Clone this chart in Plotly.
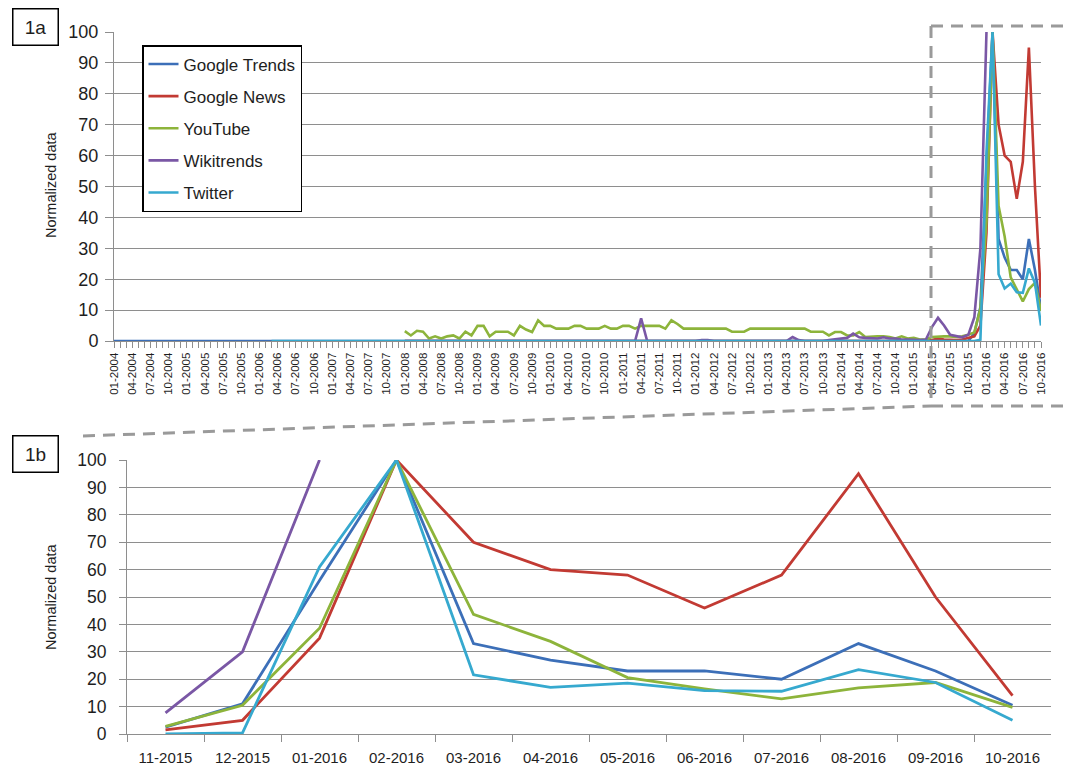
import plotly.graph_objects as go

W, H = 1071, 767          # target window
OFF = 8                   # page body margin of the written html
FW, FH = W - OFF, H - OFF # figure size so that it fills the window
FONT = "Liberation Sans, Arial, sans-serif"
GRID = "#8e8e8e"

# ---------------- data ----------------
years = list(range(2004, 2017))
months = [f"{m:02d}-{y}" for y in years for m in range(1, 13)][:154]   # 01-2004 .. 10-2016
N = None

google_trends = (
    [0] * 12 + [0] * 12 + [0] * 12 + [0] * 12 +          # 2004-2007
    [0] * 12 + [0] * 12 + [0] * 12 + [0] * 12 +          # 2008-2011
    [0] * 12 + [0] * 12 + [0] * 12 +                     # 2012-2014
    [0, 0, 0, 0, 0, 0, 0, 0, 0, 0, 2.5, 11] +            # 2015
    [56, 100, 33, 27, 23, 23, 20, 33, 23, 10.5]          # 2016
)
google_news = (
    [N] * 48 +                                           # 2004-2007
    [0] * 12 + [0] * 12 + [0] * 12 + [0] * 12 +          # 2008-2011
    [0] * 12 + [0] * 12 + [0] * 12 +                     # 2012-2014
    [0, 0, 0, 0.3, 0.8, 0.5, 0.3, 0.3, 0.5, 1, 1.5, 5] + # 2015
    [35, 100, 70, 60, 58, 46, 58, 95, 50, 14]            # 2016
)
youtube = (
    [N] * 48 +                                                        # 2004-2007
    [3.2, 1.8, 3.3, 3.0, 0.8, 1.5, 0.8, 1.5, 1.8, 0.8, 3.0, 1.8] +     # 2008
    [4.9, 4.9, 1.5, 3.0, 3.0, 3.0, 1.8, 4.9, 3.7, 2.9, 6.7, 4.9] +     # 2009
    [4.9, 4.0, 4.0, 4.0, 4.9, 4.9, 4.0, 4.0, 4.0, 4.9, 4.0, 4.0] +     # 2010
    [4.9, 4.9, 4.0, 4.9, 4.9, 4.9, 4.9, 4.0, 6.7, 5.5, 4.0, 4.0] +     # 2011
    [4.0, 4.0, 4.0, 4.0, 4.0, 4.0, 3.0, 3.0, 3.0, 4.0, 4.0, 4.0] +     # 2012
    [4.0, 4.0, 4.0, 4.0, 4.0, 4.0, 4.0, 3.0, 3.0, 3.0, 1.8, 2.9] +     # 2013
    [2.9, 1.8, 1.8, 2.9, 1.3, 1.5, 1.5, 1.5, 1.3, 0.8, 1.5, 0.8] +     # 2014
    [1.0, 0.5, 0.5, 1.3, 1.5, 1.5, 1.5, 1.3, 1.5, 2.0, 2.8, 10.5] +    # 2015
    [38.6, 100, 43.7, 33.8, 20.6, 16.5, 12.8, 16.8, 18.8, 9.7]        # 2016
)
wikitrends = (
    [N] * 48 +                                                        # 2004-2007
    [0] * 12 + [0] * 12 + [0] * 12 +                                  # 2008-2010
    [0, 0, 0, 7.3, 0, 0, 0, 0, 0, 0, 0, 0] +                          # 2011
    [0, 0.3, 0.3, 0, 0, 0, 0, 0, 0, 0, 0, 0] +                        # 2012
    [0, 0, 0, 0, 1.3, 0.3, 0, 0, 0, 0, 0.3, 0.5] +                    # 2013
    [0.8, 1.0, 2.4, 1.2, 1.0, 1.0, 0.8, 1.2, 0.8, 0.8, 0.5, 0.5] +     # 2014
    [0.3, 0.3, 0.5, 4.5, 7.5, 5.0, 2.0, 1.5, 1.2, 2.0, 7.7, 30] +      # 2015
    [100, N, N, N, N, N, N, N, N, N]                                  # 2016
)
twitter = (
    [N] * 24 + [N, N] + [0] * 10 + [0] * 12 +                         # 2004-2007
    [0] * 12 + [0] * 12 + [0] * 12 + [0] * 12 +                       # 2008-2011
    [0] * 12 + [0] * 12 + [0] * 12 +                                  # 2012-2014
    [0, 0, 0, 0, 0, 0, 0, 0, 0, 0, 0, 0.4] +                          # 2015
    [61, 100, 21.6, 17, 18.6, 15.8, 15.6, 23.5, 18.8, 5]              # 2016
)

series_names = ["Google Trends", "Google News", "YouTube", "Wikitrends", "Twitter"]
series_values = [google_trends, google_news, youtube, wikitrends, twitter]
colors = ["#3C6FB8", "#C23A33", "#8DB43B", "#7A57A5", "#36A9CF"]

zoom_start = months.index("11-2015")   # detail window for panel 1b
zoom_months = months[zoom_start:]

# ---------------- figure ----------------
fig = go.Figure()
idx = list(range(len(months)))
for name, vals, c in zip(series_names, series_values, colors):
    fig.add_trace(go.Scatter(x=idx, y=vals, mode="lines", name=name, legendgroup=name,
                             line=dict(color=c, width=2.6), xaxis="x", yaxis="y"))
for name, vals, c in zip(series_names, series_values, colors):
    fig.add_trace(go.Scatter(x=zoom_months, y=vals[zoom_start:], mode="lines",
                             name=name, legendgroup=name, showlegend=False,
                             line=dict(color=c, width=2.8), xaxis="x2", yaxis="y2"))

def px(x):
    return (x - OFF) / FW

def py(y):
    return 1 - (y - OFF) / FH

top_ticktext = [m if i % 3 == 0 else "" for i, m in enumerate(months)]

fig.update_layout(
    template="none",
    width=FW, height=FH,
    margin=dict(l=0, r=0, t=0, b=0),
    paper_bgcolor="white", plot_bgcolor="white",
    font=dict(family=FONT, color="#1e1e1e"),
    xaxis=dict(domain=[px(114), px(1041)], anchor="y", range=[0, len(months) - 1],
               tickmode="array", tickvals=idx, ticktext=top_ticktext,
               tickangle=-90, ticks="outside", ticklen=6, tickwidth=1, tickcolor=GRID,
               showline=True, linecolor=GRID, linewidth=1, showgrid=False, zeroline=False,
               tickfont=dict(size=11.5, family=FONT), automargin=False),
    yaxis=dict(domain=[py(341), py(32)], anchor="x", range=[0, 100],
               tickmode="linear", tick0=0, dtick=10, ticks="outside", ticklen=8,
               tickcolor=GRID, showline=True, linecolor=GRID, linewidth=1,
               showgrid=True, gridcolor=GRID, gridwidth=1, zeroline=False,
               ticklabelstandoff=3,
               tickfont=dict(size=18, family=FONT), automargin=False),
    xaxis2=dict(domain=[px(127), px(1051)], anchor="y2", type="category",
                range=[-0.5, len(zoom_months) - 0.5],
                tickson="boundaries", ticks="outside", ticklen=7, tickcolor=GRID,
                showline=True, linecolor=GRID, linewidth=1, showgrid=False, zeroline=False,
                ticklabelstandoff=10,
                tickfont=dict(size=15, family=FONT), automargin=False),
    yaxis2=dict(domain=[py(734), py(460)], anchor="x2", range=[0, 100],
                tickmode="linear", tick0=0, dtick=10, ticks="outside", ticklen=7,
                tickcolor=GRID, showline=True, linecolor=GRID, linewidth=1,
                showgrid=True, gridcolor=GRID, gridwidth=1, zeroline=False,
                ticklabelstandoff=9,
                tickfont=dict(size=17.5, family=FONT), automargin=False),
    legend=dict(x=px(142), y=py(45), xanchor="left", yanchor="top",
                bordercolor="#000000", borderwidth=1.5, bgcolor="white",
                font=dict(size=17, family=FONT, color="#1e1e1e"),
                itemwidth=30, tracegroupgap=7, traceorder="grouped"),
    showlegend=True,
)

# axis titles and panel labels
for yc in (185, 597):
    fig.add_annotation(text="Normalized data", x=px(51), y=py(yc), xref="paper", yref="paper",
                       textangle=-90, showarrow=False,
                       font=dict(size=14.5, family=FONT, color="#1e1e1e"),
                       xanchor="center", yanchor="middle")
for lbl, yc in (("1a", 27), ("1b", 454)):
    fig.add_annotation(text=lbl, x=px(35.5), y=py(yc), xref="paper", yref="paper",
                       showarrow=False, width=42, height=33, borderpad=1,
                       bordercolor="#000000", borderwidth=1.5, bgcolor="white",
                       font=dict(size=19, family=FONT, color="#1e1e1e"),
                       xanchor="center", yanchor="middle")

# zoom call-out (dashed frame)
dash_style = dict(color="#9a9a9a", width=3, dash="12px,8px")
for (x0, y0, x1, y1) in [(931, 26, 1067, 26), (931, 26, 931, 406), (1067, 26, 1067, 445),
                         (83, 436, 931, 406), (931, 406, 1067, 406)]:
    fig.add_shape(type="line", xref="paper", yref="paper",
                  x0=px(x0), y0=py(y0), x1=px(x1), y1=py(y1),
                  line=dash_style, layer="above")

fig.write_html("out.html")
